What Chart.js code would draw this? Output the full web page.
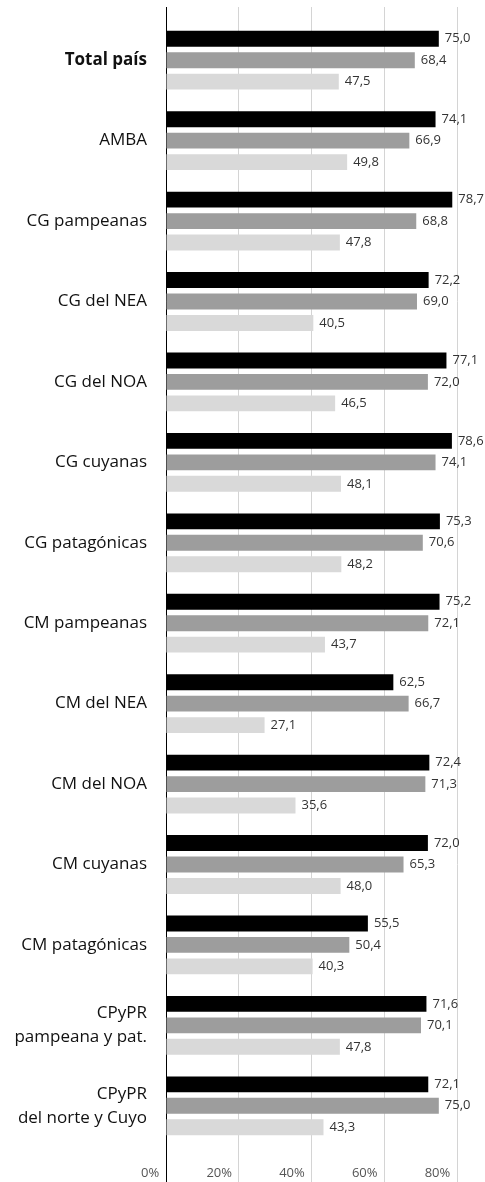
<!DOCTYPE html>
<html>
<head>
<meta charset="utf-8">
<script src="https://cdn.jsdelivr.net/npm/chart.js@4"></script>
<style>
  html, body { margin: 0; padding: 0; background: #fff; }
  canvas { display: block; }
</style>
</head>
<body>
<canvas id="chart" width="485" height="1182"></canvas>
<script>
const categories = [
  'Total país', 'AMBA', 'CG pampeanas', 'CG del NEA', 'CG del NOA', 'CG cuyanas',
  'CG patagónicas', 'CM pampeanas', 'CM del NEA', 'CM del NOA', 'CM cuyanas',
  'CM patagónicas', ['CPyPR', 'pampeana y pat.'], ['CPyPR', 'del norte y Cuyo']
];
const serie1 = [75.0, 74.1, 78.7, 72.2, 77.1, 78.6, 75.3, 75.2, 62.5, 72.4, 72.0, 55.5, 71.6, 72.1];
const serie2 = [68.4, 66.9, 68.8, 69.0, 72.0, 74.1, 70.6, 72.1, 66.7, 71.3, 65.3, 50.4, 70.1, 75.0];
const serie3 = [47.5, 49.8, 47.8, 40.5, 46.5, 48.1, 48.2, 43.7, 27.1, 35.6, 48.0, 40.3, 47.8, 43.3];
const xTicks = [0, 20, 40, 60, 80];

const FONT = '"Open Sans", "Noto Sans", sans-serif';

const gridColor = ctx => (ctx.tick && ctx.tick.value === 0) ? '#000000' : '#d4d4d4';

// no extra room for tick labels that hang over the chart edges
const noPad = s => { s.paddingTop = 0; s.paddingBottom = 0; s.paddingLeft = 0; s.paddingRight = 0; };

const valueLabels = {
  id: 'valueLabels',
  afterDatasetsDraw(chart) {
    const ctx = chart.ctx;
    ctx.save();
    ctx.font = '13px ' + FONT;
    ctx.fillStyle = '#333333';
    ctx.textAlign = 'left';
    ctx.textBaseline = 'middle';
    chart.data.datasets.forEach((ds, i) => {
      chart.getDatasetMeta(i).data.forEach((bar, j) => {
        ctx.fillText(ds.data[j].toFixed(1).replace('.', ','), bar.x + 6, bar.y);
      });
    });
    ctx.restore();
  }
};

new Chart(document.getElementById('chart'), {
  type: 'bar',
  data: {
    labels: categories,
    datasets: [
      { label: 'Serie 1', data: serie1, backgroundColor: '#000000' },
      { label: 'Serie 2', data: serie2, backgroundColor: '#9d9d9d' },
      { label: 'Serie 3', data: serie3, backgroundColor: '#d9d9d9' }
    ]
  },
  options: {
    indexAxis: 'y',
    responsive: false,
    animation: false,
    categoryPercentage: 0.8,
    barPercentage: 0.74,
    layout: { padding: { top: 7, right: 28, left: 0, bottom: 0 } },
    plugins: {
      legend: { display: false },
      tooltip: { enabled: false }
    },
    scales: {
      x: {
        position: 'bottom',
        min: 0,
        max: 80,
        afterBuildTicks: s => { s.ticks = xTicks.map(v => ({ value: v })); },
        afterFit: s => { s.height = 36; noPad(s); },
        border: { display: false },
        grid: { color: gridColor, tickLength: 36 },
        ticks: {
          align: 'end',
          padding: -17,
          color: '#555555',
          font: { family: FONT, size: 13 },
          callback: v => v + '%  '
        }
      },
      x2: {
        position: 'top',
        min: 0,
        max: 80,
        afterBuildTicks: s => { s.ticks = xTicks.map(v => ({ value: v })); },
        afterFit: s => { s.height = 13; noPad(s); },
        border: { display: false },
        grid: { color: gridColor, tickLength: 13, drawOnChartArea: false },
        ticks: { display: false }
      },
      y: {
        afterFit: s => { s.width = 166; noPad(s); },
        border: { display: true, color: '#000000', width: 1 },
        grid: { drawOnChartArea: false, drawTicks: false },
        ticks: {
          padding: 19,
          color: '#111111',
          font: ctx => ({ family: FONT, size: 17, lineHeight: 1.42, weight: ctx.index === 0 ? 'bold' : 'normal' })
        }
      }
    }
  },
  plugins: [valueLabels]
});
</script>
</body>
</html>
